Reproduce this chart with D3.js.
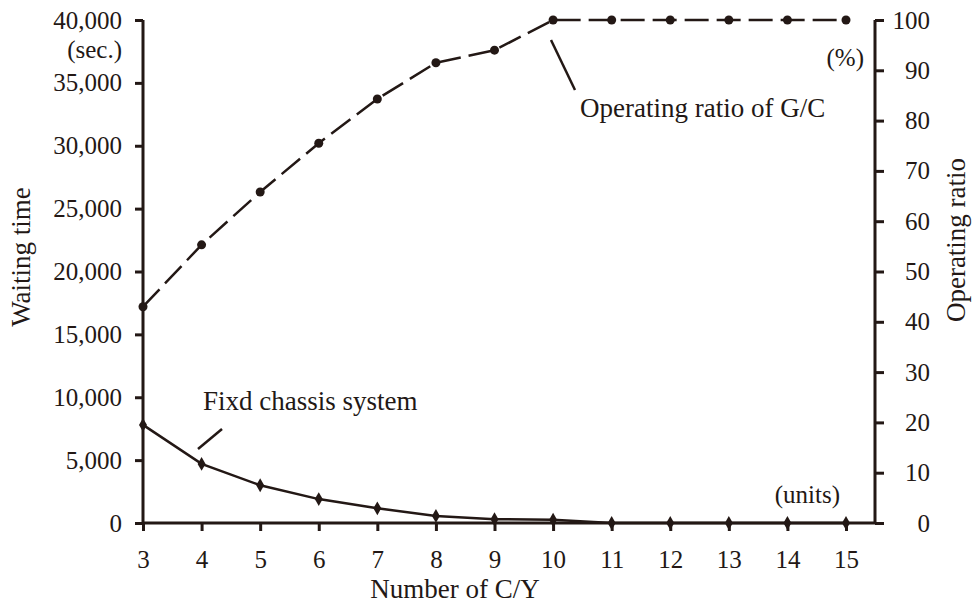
<!DOCTYPE html>
<html>
<head>
<meta charset="utf-8">
<script src="https://cdn.jsdelivr.net/npm/d3@7"></script>
<style>
  body { margin: 0; background: #fff; }
  svg text { font-family: "Liberation Serif", "Times New Roman", serif; fill: #231815; }
</style>
</head>
<body>
<svg id="chart"></svg>
<script>
// number of C/Y (units)
const units = [3, 4, 5, 6, 7, 8, 9, 10, 11, 12, 13, 14, 15];
// waiting time, fixed chassis system (sec.)
const waitingTime = [7800, 4700, 3000, 1900, 1170, 560, 300, 260, 0, 0, 0, 0, 0];
// operating ratio of G/C (%)
const operatingRatio = [43, 55.3, 65.8, 75.5, 84.3, 91.5, 94, 100, 100, 100, 100, 100, 100];

const leftTicks = [0, 5000, 10000, 15000, 20000, 25000, 30000, 35000, 40000];
const rightTicks = [0, 10, 20, 30, 40, 50, 60, 70, 80, 90, 100];

const ink = '#231815';
const W = 976, H = 605;
const plot = {left: 143, right: 875, top: 20, bottom: 523};

const svg = d3.select('#chart').attr('width', W).attr('height', H);

const x = d3.scaleLinear().domain([3, 15]).range([plot.left, 846]);
const yL = d3.scaleLinear().domain([0, 40000]).range([plot.bottom, plot.top]);
const yR = d3.scaleLinear().domain([0, 100]).range([plot.bottom, plot.top]);

// left axis
const leftAxis = svg.append('g')
    .attr('transform', `translate(${plot.left},0)`)
    .call(d3.axisLeft(yL).tickValues(leftTicks).tickFormat(d3.format(',')).tickSize(8).tickPadding(13));

// right axis
const rightAxis = svg.append('g')
    .attr('transform', `translate(${plot.right},0)`)
    .call(d3.axisRight(yR).tickValues(rightTicks).tickSize(9).tickPadding(46));
rightAxis.selectAll('text').attr('text-anchor', 'end');

// bottom axis
const bottomAxis = svg.append('g')
    .attr('transform', `translate(0,${plot.bottom})`)
    .call(d3.axisBottom(x).tickValues(units).tickSize(8));
bottomAxis.select('.domain').remove();
bottomAxis.selectAll('text').attr('y', 45).attr('dy', 0);

svg.append('line')
    .attr('x1', plot.left).attr('x2', plot.right)
    .attr('y1', plot.bottom).attr('y2', plot.bottom)
    .attr('stroke', ink).attr('stroke-width', 3);

[leftAxis, rightAxis].forEach(g => {
  g.select('.domain').attr('stroke', ink).attr('stroke-width', 3)
    .attr('d', `M0,${plot.top}V${plot.bottom}`);
});
[leftAxis, rightAxis, bottomAxis].forEach(g => {
  g.selectAll('.tick line').attr('stroke', ink).attr('stroke-width', 3);
  g.selectAll('text').style('font-size', '25px').attr('fill', ink)
    .style('font-family', '"Liberation Serif", serif');
});

// operating ratio line (dashed)
svg.append('path')
    .datum(operatingRatio)
    .attr('fill', 'none')
    .attr('stroke', ink)
    .attr('stroke-width', 2.5)
    .attr('stroke-dasharray', '24,8')
    .attr('d', d3.line().x((d, i) => x(units[i])).y(d => yR(d)));

svg.selectAll('.dot')
    .data(operatingRatio)
    .join('circle')
    .attr('class', 'dot')
    .attr('cx', (d, i) => x(units[i]))
    .attr('cy', d => yR(d))
    .attr('r', 4.5)
    .attr('fill', ink);

// waiting time line
svg.append('path')
    .datum(waitingTime)
    .attr('fill', 'none')
    .attr('stroke', ink)
    .attr('stroke-width', 2.5)
    .attr('d', d3.line().x((d, i) => x(units[i])).y(d => yL(d)));

svg.selectAll('.diamond')
    .data(waitingTime)
    .join('path')
    .attr('class', 'diamond')
    .attr('transform', (d, i) => `translate(${x(units[i])},${yL(d)})`)
    .attr('d', d3.symbol(d3.symbolDiamond, 55))
    .attr('fill', ink);

// labels
const label = (txt, px, py, size, anchor) => svg.append('text')
    .attr('x', px).attr('y', py)
    .attr('text-anchor', anchor || 'start')
    .style('font-size', size + 'px')
    .text(txt);

label('(sec.)', 122, 58, 25, 'end');
label('(%)', 864, 66, 25, 'end');
label('(units)', 840, 503, 25, 'end');
label('Number of C/Y', 455, 598, 27, 'middle');
label('Operating ratio of G/C', 580, 117, 27);
label('Fixd chassis system', 203, 410, 27);

svg.append('text')
    .attr('transform', 'translate(30,257) rotate(-90)')
    .attr('text-anchor', 'middle')
    .style('font-size', '27px')
    .text('Waiting time');

svg.append('text')
    .attr('transform', 'translate(965,240) rotate(-90)')
    .attr('text-anchor', 'middle')
    .style('font-size', '27px')
    .text('Operating ratio');

// leader lines
svg.append('line')
    .attr('x1', 551).attr('y1', 40).attr('x2', 575).attr('y2', 90)
    .attr('stroke', ink).attr('stroke-width', 2.5);
svg.append('line')
    .attr('x1', 198).attr('y1', 449).attr('x2', 222).attr('y2', 429)
    .attr('stroke', ink).attr('stroke-width', 2.5);
</script>
</body>
</html>
